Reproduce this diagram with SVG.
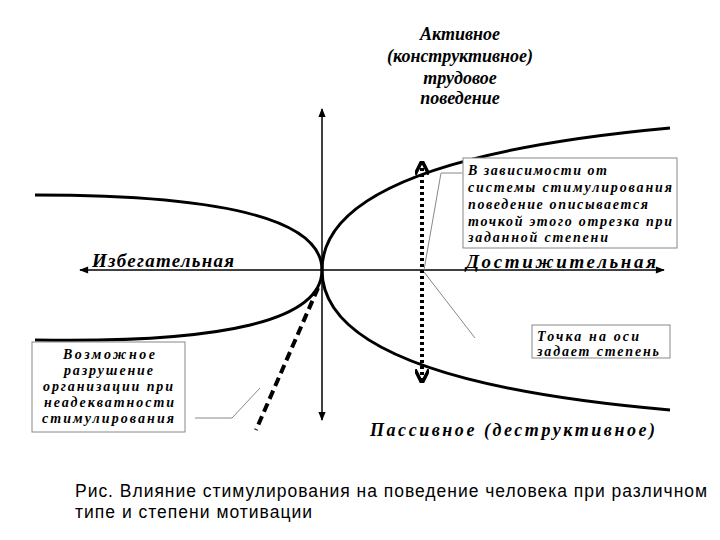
<svg xmlns="http://www.w3.org/2000/svg" width="720" height="540" viewBox="0 0 720 540">
<style>
.t{font-family:"Liberation Serif",serif;font-style:italic;font-weight:bold;fill:#000}
.c{font-family:"Liberation Sans",sans-serif;font-size:17.5px;fill:#000}
.box{fill:#fff;stroke:#888;stroke-width:1}
.cv{fill:none;stroke:#000;stroke-width:3}
.ld{fill:none;stroke:#888;stroke-width:1}
</style>
<defs>
<marker id="a" viewBox="0 0 10 10" refX="9" refY="5" markerWidth="11" markerHeight="9" markerUnits="userSpaceOnUse" orient="auto-start-reverse"><path d="M0,1L10,5L0,9z" fill="#000"/></marker>
<marker id="b" viewBox="0 0 10 10" refX="9" refY="5" markerWidth="14" markerHeight="14" markerUnits="userSpaceOnUse" orient="auto-start-reverse"><path d="M0,0L10,5L0,10" fill="none" stroke="#000" stroke-width="2.5"/></marker>
</defs>
<rect width="720" height="540" fill="#fff"/>
<g id="connectors">
<line x1="80" y1="270" x2="664" y2="270" stroke="#000" stroke-width="1.5" marker-start="url(#a)" marker-end="url(#a)"/>
<line x1="322" y1="109" x2="322" y2="420" stroke="#000" stroke-width="1.5" marker-start="url(#a)" marker-end="url(#a)"/>
<path class="cv" d="M670,128 Q322,160 322,270 Q322,380 670,410"/>
<path class="cv" d="M35,195 Q322,195 322,270 Q322,345 35,340"/>
<line x1="422" y1="162" x2="422" y2="382" stroke="#000" stroke-width="4" stroke-dasharray="3,3" marker-start="url(#b)" marker-end="url(#b)"/>
<line x1="318" y1="288" x2="256" y2="430" stroke="#000" stroke-width="4" stroke-dasharray="9,5"/>
<path class="ld" d="M462,173 L441,173 L424,270"/>
<path class="ld" d="M424,272 L475,338"/>
<path class="ld" d="M195,418 L232,418 L260,388"/>
</g>
<g id="top"><text class="t" font-size="18" text-anchor="middle"><tspan x="460" y="40">Активное</tspan><tspan x="460" y="62">(конструктивное)</tspan><tspan x="460" y="84">трудовое</tspan><tspan x="460" y="104">поведение</tspan></text></g>
<g id="box1"><rect class="box" x="463" y="158" width="214" height="90"/>
<text class="t" font-size="14"><tspan x="468" y="175" textLength="139">В зависимости от</tspan><tspan x="468" y="192" textLength="204">системы стимулирования</tspan><tspan x="468" y="209" textLength="180">поведение описывается</tspan><tspan x="468" y="226" textLength="204">точкой этого отрезка при</tspan><tspan x="468" y="242" textLength="140">заданной степени</tspan></text></g>
<g id="left"><text class="t" font-size="19" x="92" y="267" textLength="142">Избегательная</text></g>
<g id="right"><text class="t" font-size="19" x="466" y="268" textLength="190">Достижительная</text></g>
<g id="box2"><rect class="box" x="532" y="325" width="138" height="33"/>
<text class="t" font-size="14"><tspan x="537" y="341" textLength="102">Точка на оси</tspan><tspan x="537" y="356" textLength="122">задает степень</tspan></text></g>
<g id="box3"><rect class="box" x="32" y="342" width="153" height="90"/>
<text class="t" font-size="14"><tspan x="63" y="359" textLength="92">Возможное</tspan><tspan x="64" y="375" textLength="89">разрушение</tspan><tspan x="43" y="391" textLength="130">организации при</tspan><tspan x="44" y="407" textLength="130">неадекватности</tspan><tspan x="42" y="423" textLength="132">стимулирования</tspan></text></g>
<g id="bottom"><text class="t" font-size="18" x="370" y="436" textLength="285">Пассивное (деструктивное)</text></g>
<g id="caption"><text class="c"><tspan x="75" y="497" textLength="632">Рис. Влияние стимулирования на поведение человека при различном</tspan><tspan x="75" y="518" textLength="237">типе и степени мотивации</tspan></text></g>
</svg>
